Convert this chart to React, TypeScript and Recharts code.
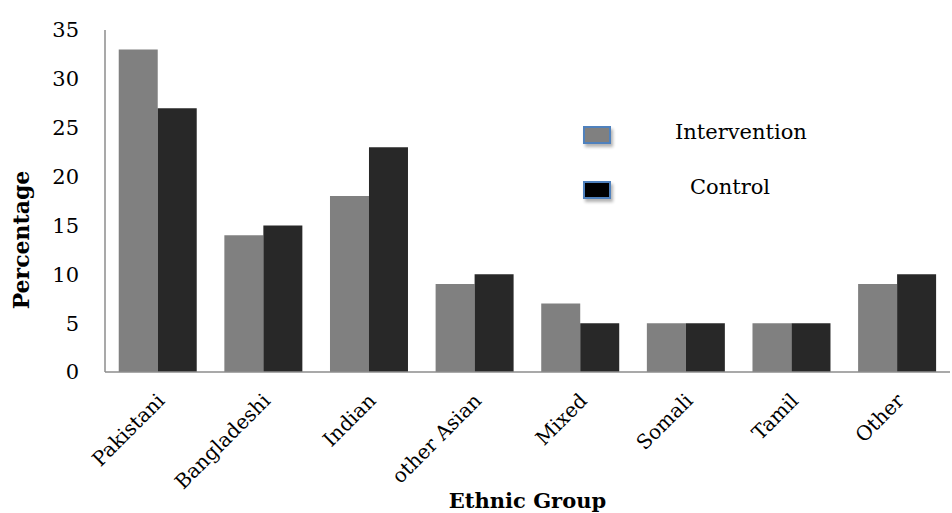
import React from 'react';
import { BarChart, Bar, XAxis, YAxis } from 'recharts';

const categories = ['Pakistani', 'Bangladeshi', 'Indian', 'other Asian', 'Mixed', 'Somali', 'Tamil', 'Other'];
const intervention = [33, 14, 18, 9, 7, 5, 5, 9];
const control = [27, 15, 23, 10, 5, 5, 5, 10];
const yTicks = [0, 5, 10, 15, 20, 25, 30, 35];
const seriesNames = ['Intervention', 'Control'];
const seriesColors = ['#808080', '#282828'];
const legendSwatch = ['#808080', '#000000'];

const data = categories.map((c, i) => ({ name: c, Intervention: intervention[i], Control: control[i] }));

const FONT = '"DejaVu Serif", serif';

const XTick = (props: any) => {
  const { x, y, payload } = props;
  return (
    <text
      transform={`translate(${x + 8},${y + 22}) rotate(-45)`}
      textAnchor="end"
      fontFamily={FONT}
      fontSize={20}
      fill="#000"
    >
      {payload.value}
    </text>
  );
};

const LegendBox = () => (
  <div style={{ position: 'absolute', left: 583, top: 124, width: 260, height: 100, fontFamily: FONT, fontSize: 21, color: '#000' }}>
    {seriesNames.map((n, i) => (
      <React.Fragment key={n}>
        <div style={{ position: 'absolute', left: 0, top: 2 + i * 55, width: 24, height: 14, background: legendSwatch[i], border: '2px solid #4f81bd', boxShadow: '2px 3px 3px rgba(0,0,0,0.3)' }} />
        <div style={{ position: 'absolute', left: i === 0 ? 92 : 107, top: -4 + i * 55 }}>{n}</div>
      </React.Fragment>
    ))}
  </div>
);

export default function App() {
  return (
    <div style={{ position: 'absolute', left: 0, top: 0, width: 952, height: 513, background: '#fff' }}>
      <BarChart
        width={952}
        height={513}
        data={data}
        margin={{ top: 30, right: 2, bottom: 0, left: 0 }}
        barCategoryGap="13%"
        barGap={0}
      >
        <XAxis
          dataKey="name"
          interval={0}
          tickLine={false}
          axisLine={{ stroke: '#8c8c8c', strokeWidth: 1.5 }}
          height={141}
          tick={<XTick />}
          label={{
            value: 'Ethnic Group',
            position: 'insideBottom',
            offset: 5,
            fontFamily: FONT,
            fontSize: 21,
            fontWeight: 'bold',
            fill: '#000',
          }}
        />
        <YAxis
          domain={[0, 35]}
          ticks={yTicks}
          width={105}
          tickLine={false}
          tickSize={0}
          tickMargin={26}
          axisLine={{ stroke: '#8c8c8c', strokeWidth: 1.5 }}
          tick={{ fontFamily: FONT, fontSize: 21, fill: '#000' }}
          label={{
            content: (p: any) => {
              const vb = p.viewBox || { y: 30, height: 342 };
              const cy = vb.y + vb.height / 2 + 39;
              return (
                <text
                  transform={`translate(29,${cy}) rotate(-90)`}
                  textAnchor="middle"
                  fontFamily={FONT}
                  fontSize={22}
                  fontWeight="bold"
                  fill="#000"
                >
                  Percentage
                </text>
              );
            },
          }}
        />
        {seriesNames.map((n, i) => (
          <Bar key={n} dataKey={n} fill={seriesColors[i]} isAnimationActive={false} />
        ))}
      </BarChart>
      <LegendBox />
    </div>
  );
}
